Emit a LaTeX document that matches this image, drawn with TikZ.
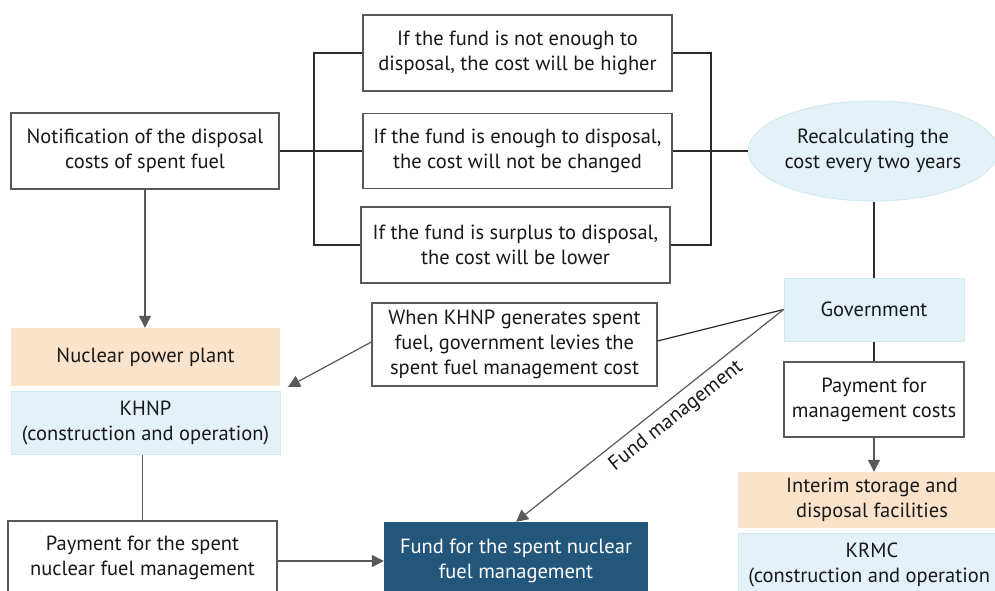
\documentclass[tikz,border=0pt]{standalone}
\usepackage{fontspec}
\setmainfont{PT Sans}
\usetikzlibrary{arrows.meta,shapes.geometric,calc}
\definecolor{peach}{HTML}{FBE3CB}
\definecolor{lblue}{HTML}{E3F2F7}
\definecolor{lblueb}{HTML}{D2E9F0}
\definecolor{dblue}{HTML}{23567B}
\definecolor{lne}{HTML}{2B2B2B}
\definecolor{gry}{HTML}{595959}
\begin{document}
\begin{tikzpicture}[x=1pt,y=-1pt,
  every node/.style={font=\fontsize{20.5}{25}\selectfont, align=center, inner sep=0pt, text=black!90},
  wbox/.style={draw=gry, line width=1.2pt, fill=white},
  pbox/.style={fill=peach},
  bbox/.style={fill=lblue, draw=lblueb, line width=1pt},
  dbox/.style={fill=dblue, text=white},
  ln/.style={draw=lne, line width=1.2pt},
  arr/.style={draw=gry, line width=1.2pt, -{Triangle[length=12pt,width=12pt]}},
  glin/.style={draw=gry, line width=1.2pt}]
\useasboundingbox (0,0) rectangle (995,591);
% nodes
\node[wbox, minimum width=268, minimum height=76] (notif) at (145,151) {Notification of the disposal\\costs of spent fuel};
\node[wbox, minimum width=309, minimum height=76] (top) at (517.5,53) {If the fund is not enough to\\disposal, the cost will be higher};
\node[wbox, minimum width=309, minimum height=75] (mid) at (517.5,151) {If the fund is enough to disposal,\\the cost will not be changed};
\node[wbox, minimum width=309, minimum height=76] (bot) at (515.5,245) {If the fund is surplus to disposal,\\the cost will be lower};
\node[ellipse, fill=lblue, draw=lblueb, line width=1pt, minimum width=246, minimum height=100] (ell) at (873,151) {Recalculating the\\cost every two years};
\node[bbox, minimum width=180, minimum height=63] (gov) at (874,309.5) {Government};
\node[wbox, minimum width=180, minimum height=75] (pay2) at (874,399.5) {Payment for\\management costs};
\node[pbox, minimum width=268, minimum height=56] (interim) at (872,500) {Interim storage and\\disposal facilities};
\node[bbox, minimum width=268, minimum height=63] (krmc) at (872,564.5) {KRMC\\(construction and operation\phantom{)}};
\node[pbox, minimum width=269, minimum height=58] (npp) at (145.5,357) {Nuclear power plant};
\node[bbox, minimum width=269, minimum height=63] (khnp) at (145.5,422.5) {KHNP\\(construction and operation)};
\node[wbox, minimum width=285, minimum height=83] (when) at (514.5,344.5) {When KHNP generates spent\\fuel, government levies the\\spent fuel management cost};
\node[wbox, minimum width=269, minimum height=73] (pay1) at (142.5,557.5) {Payment for the spent\\nuclear fuel management};
\node[dbox, minimum width=264, minimum height=78] (fund) at (516,561) {Fund for the spent nuclear\\fuel management};
% coordinates
\coordinate (lb) at (314,151);
\coordinate (rb) at (711,151);
\coordinate (tipk) at (288,387);
% connectors
\draw[ln] (notif.east) -- (mid.west);
\draw[ln] (top.west) -| (lb) |- (bot.west);
\draw[ln] (top.east) -| (rb) |- (bot.east);
\draw[ln] (mid.east) -- (ell.west);
\draw[ln] (ell.south -| gov.north) -- (gov.north);
\draw[ln] (gov.south) -- (pay2.north);
\draw[arr] (pay2.south) -- (pay2.south |- interim.north);
\draw[arr] (notif.south) -- (notif.south |- npp.north);
\draw[glin] (pay1.north |- khnp.south) -- (pay1.north);
\draw[arr] (pay1.east |- fund.west) -- (fund.west);
\draw[ln] (gov.west) -- ([yshift=3.5pt]when.east);
\draw[arr] ([yshift=2.5pt]when.west) -- (tipk);
\draw[arr] (gov.west) -- (fund.north) node[pos=0.44, sloped, anchor=north, inner sep=7pt] {Fund management};
\end{tikzpicture}
\end{document}
